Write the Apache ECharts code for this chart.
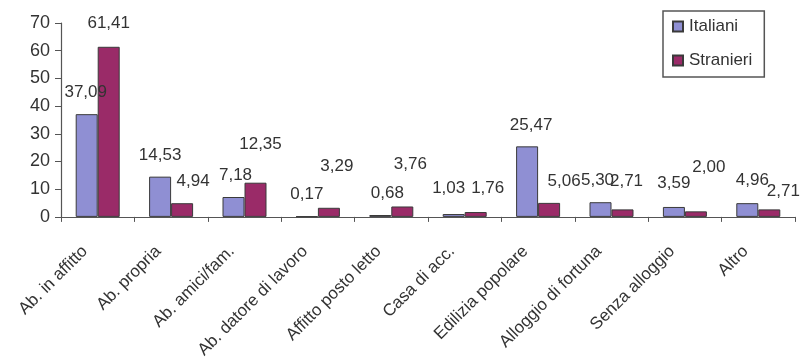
<!DOCTYPE html>
<html>
<head>
<meta charset="utf-8">
<script src="https://cdn.jsdelivr.net/npm/echarts@6/dist/echarts.min.js"></script>
<style>
html,body{margin:0;padding:0;background:#fff;}
#c{width:805px;height:361px;}
</style>
</head>
<body>
<div id="c"></div>
<script>
var categories = ["Ab. in affitto","Ab. propria","Ab. amici/fam.","Ab. datore di lavoro","Affitto posto letto","Casa di acc.","Edilizia popolare","Alloggio di fortuna","Senza alloggio","Altro"];
var italiani = [37.09,14.53,7.18,0.17,0.68,1.03,25.47,5.30,3.59,4.96];
var stranieri = [61.41,4.94,12.35,3.29,3.76,1.76,5.06,2.71,2.00,2.71];
var yTicks = [0,10,20,30,40,50,60,70];
// label nudges (dx, dy) as seen in the reference
var italianiLabelNudge = [[-1,0],[0,0],[2,0],[0,0],[7,0],[-5,-4],[4,0],[-3,0],[0,-2],[5,-1]];
var stranieriLabelNudge = [[0,-2],[11,0],[5,-17],[8,-20],[8,-21],[12,-2],[15,0],[4,-7],[13,-23],[14,3]];

var FONT = "'Liberation Sans', Arial, sans-serif";
function fmt(v){ return v.toFixed(2).replace('.', ','); }
function mk(vals, nudges){
  return vals.map(function(v,i){
    return {value:v, label:{offset:nudges[i]}};
  });
}
var labelStyle = {
  show:true, position:'top', distance:13,
  fontFamily:FONT, fontSize:17, color:'#333',
  formatter:function(p){ return fmt(p.value); }
};
var chart = echarts.init(document.getElementById('c'), null, {renderer:'canvas'});
chart.setOption({
  animation:false,
  backgroundColor:'#fff',
  grid:{left:61, right:10, top:23, bottom:143, containLabel:false},
  legend:{
    orient:'vertical', left:663, top:11, width:100,
    padding:[7,12,8,9], itemGap:17,
    borderColor:'#555', borderWidth:1.5,
    icon:'rect', itemWidth:10, itemHeight:10,
    textStyle:{fontFamily:FONT, fontSize:17, color:'#333', padding:[0,0,0,1]},
    data:['Italiani','Stranieri']
  },
  xAxis:{
    type:'category', data:categories,
    axisLine:{lineStyle:{color:'#555', width:1.2}},
    axisTick:{show:true, alignWithLabel:false, length:5, lineStyle:{color:'#555'}},
    axisLabel:{rotate:45, interval:0, margin:19, padding:[0,18,0,0],
      fontFamily:FONT, fontSize:17, color:'#333'}
  },
  yAxis:{
    type:'value', min:yTicks[0], max:yTicks[yTicks.length-1], interval:10,
    axisLine:{show:true, lineStyle:{color:'#555', width:1.2}},
    axisTick:{show:true, length:6, lineStyle:{color:'#555'}},
    splitLine:{show:false},
    axisLabel:{margin:11, fontFamily:FONT, fontSize:18, color:'#333'}
  },
  series:[
    {name:'Italiani', type:'bar', data:mk(italiani, italianiLabelNudge),
     barWidth:22, barGap:'0%',
     itemStyle:{color:'#8f8fd3', borderColor:'#3a3a3a', borderWidth:1},
     label:labelStyle},
    {name:'Stranieri', type:'bar', data:mk(stranieri, stranieriLabelNudge),
     barWidth:22, barGap:'0%',
     itemStyle:{color:'#9a2b68', borderColor:'#3a3a3a', borderWidth:1},
     label:labelStyle}
  ]
});
</script>
</body>
</html>
